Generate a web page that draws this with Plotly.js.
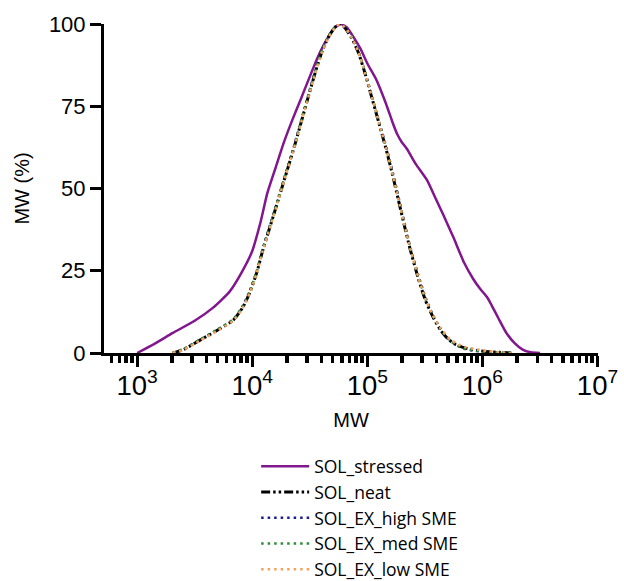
<!DOCTYPE html>
<html>
<head>
<meta charset="utf-8">
<script src="https://cdn.plot.ly/plotly-3.0.1.min.js"></script>
<style>html,body{margin:0;padding:0;background:#fff;}#chart{width:624px;height:581px;}</style>
</head>
<body>
<div id="chart"></div>
<script>
// ---- data ----
const seriesNames = ["SOL_stressed", "SOL_neat", "SOL_EX_high SME", "SOL_EX_med SME", "SOL_EX_low SME"];

const mwStressed = [1000, 1413, 2040, 3160, 4570, 6300, 7940, 10000, 11750, 13500, 15850, 18600, 22400, 26300, 31600, 37150, 44700, 52500, 58900, 66100, 75900, 87100, 100000, 120000, 144500, 166000, 182000, 200000, 221000, 263000, 331000, 398000, 457000, 562000, 692000, 832000, 955000, 1096000, 1202000, 1380000, 1622000, 1905000, 2239000, 2630000, 3162000];
const valStressed = [0, 2.8, 6.1, 9.8, 13.8, 18.5, 24, 31, 39.5, 48.5, 56, 63.5, 71, 77, 84, 90, 95.5, 99, 100, 99, 96, 92.5, 88, 83, 76, 70, 66.5, 64, 62, 57.5, 52.5, 46.5, 42, 35, 27.5, 22.5, 19.5, 17, 14.5, 10.5, 6, 3, 1, 0.2, 0];

const mwNarrow = [2040, 2510, 3550, 5010, 6840, 8320, 9550, 10960, 12300, 14450, 16980, 19500, 22900, 26300, 30200, 35100, 40700, 46800, 52500, 57500, 63100, 72400, 83200, 95500, 109600, 125900, 146200, 166000, 186200, 208900, 236600, 275400, 319200, 371500, 431500, 501200, 588800, 707900, 891300, 1122000, 1413000, 1778000];
const valNeat = [0, 1, 4, 7, 10, 14, 18.5, 24.5, 31, 39, 47, 54, 62, 69.5, 77, 85, 92, 96.5, 99, 100, 99, 96, 91.5, 85, 77.5, 70, 61.7, 54, 46.5, 39, 31.3, 23, 16.1, 11, 7, 4.3, 2.5, 1.5, 0.8, 0.4, 0.2, 0];
const valHigh = [0, 1, 4, 7, 10, 14.5, 19, 25, 31.5, 39.5, 47.5, 54.5, 62.5, 70, 77.5, 85.5, 92.5, 96.5, 99, 100, 99, 96.5, 92, 85.5, 78, 70.5, 62.5, 55, 47.5, 40, 32, 24, 17, 11.5, 7.5, 4.5, 2.5, 1.2, 0.6, 0.3, 0.1, 0];
const valMed = [0, 1.2, 4.2, 7.2, 10.3, 14.3, 18.8, 24.8, 31.3, 39.3, 47.3, 54.3, 62.3, 69.8, 77.3, 85.3, 92.3, 96.7, 99.2, 100, 99.2, 96.3, 91.8, 85.3, 77.8, 70.3, 62.2, 54.5, 47, 39.5, 31.8, 23.5, 16.6, 11.3, 7.3, 4.4, 2.4, 1.3, 0.7, 0.3, 0.1, 0];
const valLow = [0, 0.9, 3.8, 6.8, 9.8, 13.8, 18.3, 24.3, 30.8, 38.8, 46.8, 53.8, 61.8, 69.3, 76.8, 84.8, 91.8, 96.3, 98.9, 100, 99.1, 96.2, 91.7, 85.2, 77.7, 70.2, 62, 54.3, 46.8, 39.3, 31.6, 23.4, 16.5, 11.4, 7.6, 4.8, 3, 1.8, 1.1, 0.6, 0.2, 0];

const xRangeMW = [515, 10100000];
const yTickVals = [0, 25, 50, 75, 100];
const xTitle = "MW";
const yTitle = "MW (%)";

// ---- styling ----
const colors = ["#82168f", "#000000", "#1c1c8c", "#2e8b37", "#f5a25d"];
const tickFont = {family: "Liberation Sans, Arial, sans-serif", size: 22, color: "#000"};
const titleFont = {family: "Liberation Sans, Arial, sans-serif", size: 20, color: "#000"};

const traces = [
  {x: mwStressed, y: valStressed, name: seriesNames[0], line: {color: colors[0], width: 2.5, shape: "spline", smoothing: 0.5}},
  {x: mwNarrow, y: valNeat, name: seriesNames[1], line: {color: colors[1], width: 3, dash: "9px,3px,2.5px,3px,2.5px,3px", shape: "spline", smoothing: 0.6}},
  {x: mwNarrow, y: valHigh, name: seriesNames[2], line: {color: colors[2], width: 2.5, dash: "2.5px,4px", shape: "spline", smoothing: 0.6}},
  {x: mwNarrow, y: valMed, name: seriesNames[3], line: {color: colors[3], width: 2.5, dash: "2.5px,4px", shape: "spline", smoothing: 0.6}},
  {x: mwNarrow, y: valLow, name: seriesNames[4], line: {color: colors[4], width: 2.5, dash: "2.5px,4px", shape: "spline", smoothing: 0.6}}
].map((t, i) => Object.assign({type: "scatter", mode: "lines", hoverinfo: "skip"}, t));

const layout = {
  width: 624, height: 581,
  margin: {l: 104, r: 26, t: 24, b: 228, autoexpand: false},
  paper_bgcolor: "#fff", plot_bgcolor: "#fff",
  showlegend: true,
  legend: {
    x: 0.308, y: -0.29, xanchor: "left", yanchor: "top",
    font: {family: "Open Sans, sans-serif", size: 17.5, color: "#000"},
    itemwidth: 48, bgcolor: "rgba(0,0,0,0)"
  },
  xaxis: {
    type: "log", range: xRangeMW.map(Math.log10),
    tick0: 0, dtick: 1, exponentformat: "power",
    showgrid: false, zeroline: false, showline: true, linewidth: 3, linecolor: "#000",
    ticks: "outside", ticklen: 11, tickwidth: 3, tickcolor: "#000",
    tickfont: tickFont, automargin: false, ticklabelstandoff: -4,
    minor: {ticks: "outside", ticklen: 7, tickwidth: 3.5, tickcolor: "#000", showgrid: false},
    title: {text: xTitle, font: titleFont, standoff: 14}
  },
  yaxis: {
    range: [0, 100], tickvals: yTickVals,
    showgrid: false, zeroline: false, showline: true, linewidth: 3, linecolor: "#000",
    ticks: "outside", ticklen: 11, tickwidth: 3, tickcolor: "#000",
    tickfont: tickFont, automargin: false,
    title: {text: yTitle, font: titleFont, standoff: 14}
  }
};

Plotly.newPlot("chart", traces, layout, {displayModeBar: false, staticPlot: true});
</script>
</body>
</html>
